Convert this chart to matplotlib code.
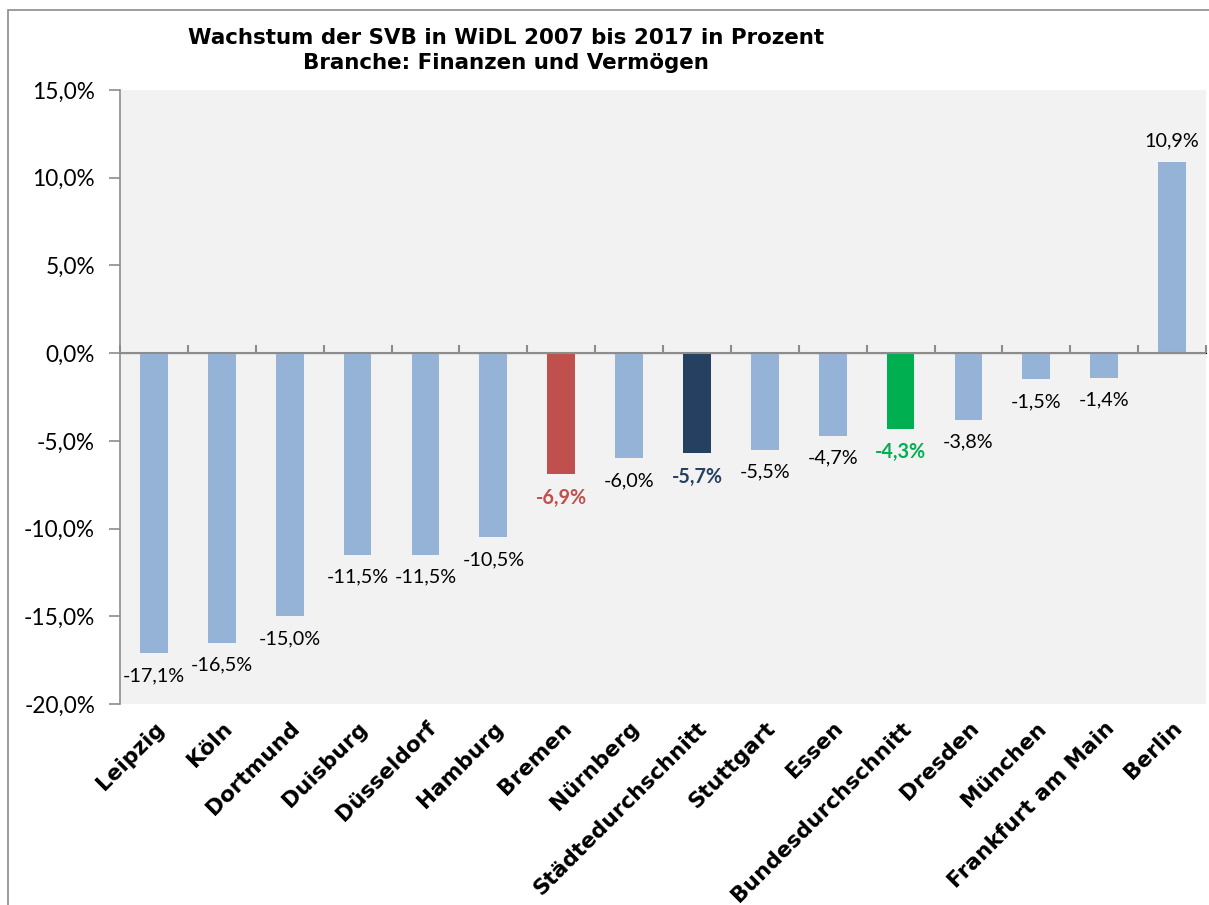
import matplotlib.pyplot as plt
import numpy as np
from matplotlib.patches import Rectangle


cities = ["Leipzig", "Köln", "Dortmund", "Duisburg", "Düsseldorf", "Hamburg",
          "Bremen", "Nürnberg", "Städtedurchschnitt", "Stuttgart", "Essen",
          "Bundesdurchschnitt", "Dresden", "München", "Frankfurt am Main",
          "Berlin"]
growth = [-17.1, -16.5, -15.0, -11.5, -11.5, -10.5, -6.9, -6.0, -5.7, -5.5,
          -4.7, -4.3, -3.8, -1.5, -1.4, 10.9]
yticks = [-20, -15, -10, -5, 0, 5, 10, 15]

light = "#95B3D7"
special = {"Bremen": "#C0504D", "Städtedurchschnitt": "#254061",
           "Bundesdurchschnitt": "#00B050"}


def fmt(v):
    return f"{v:.1f}%".replace(".", ",")


W, H = 1209, 905
fig = plt.figure(figsize=(W / 100, H / 100), dpi=100)
fig.patches.append(Rectangle((8 / W, -0.01), 1.0, (H - 10) / H + 0.01,
                             transform=fig.transFigure, fill=False,
                             edgecolor="#8c8c8c", lw=1.2))

ax = fig.add_axes([120 / W, (H - 704) / H, (1206 - 120) / W, (704 - 90) / H])
ax.set_facecolor("#F2F2F2")

x = np.arange(len(cities))
colors = [special.get(c, light) for c in cities]
ax.bar(x, growth, width=0.41, color=colors, zorder=2)

ymin, ymax = -20, 15
ax.set_ylim(ymin, ymax)
ax.set_xlim(-0.5, len(cities) - 0.5)
ax.set_yticks(yticks)
ax.set_yticklabels([fmt(v) for v in yticks], family="Lato", fontsize=16.3)
ax.tick_params(axis="y", length=8, width=1.2, color="#8c8c8c", pad=10)

for s in ["top", "right", "bottom"]:
    ax.spines[s].set_visible(False)
ax.spines["left"].set_color("#8c8c8c")
ax.spines["left"].set_linewidth(1.2)

ax.axhline(0, color="#8c8c8c", lw=1.5, zorder=3)

# category boundary ticks on the zero line
sec = ax.secondary_xaxis((0 - ymin) / (ymax - ymin))
sec.set_xticks(np.arange(len(cities) + 1) - 0.5)
sec.set_xticklabels([])
sec.tick_params(length=6, width=1.5, color="#8c8c8c", direction="out")
sec.spines["bottom"].set_visible(False)

ax.set_xticks(x)
ax.set_xticklabels(cities, rotation=45, ha="right", rotation_mode="anchor",
                   family="DejaVu Sans", fontweight="bold", fontsize=15.6)
ax.tick_params(axis="x", length=0, pad=10)

for xi, v, c in zip(x, growth, cities):
    col = special.get(c, "black")
    bold = c in special
    off = -10 if v < 0 else 9
    ax.annotate(fmt(v), (xi, v), xytext=(0, off), textcoords="offset points",
                ha="center", va="top" if v < 0 else "bottom",
                family="Lato", fontsize=14.2, color=col,
                fontweight="bold" if bold else "normal", zorder=4)

fig.text(506 / W, 1 - 38 / H, "Wachstum der SVB in WiDL 2007 bis 2017 in Prozent",
         ha="center", va="center", fontsize=15.4, fontweight="bold")
fig.text(506 / W, 1 - 63 / H, "Branche: Finanzen und Vermögen",
         ha="center", va="center", fontsize=15.4, fontweight="bold")

fig.savefig("out.png", dpi=100)
